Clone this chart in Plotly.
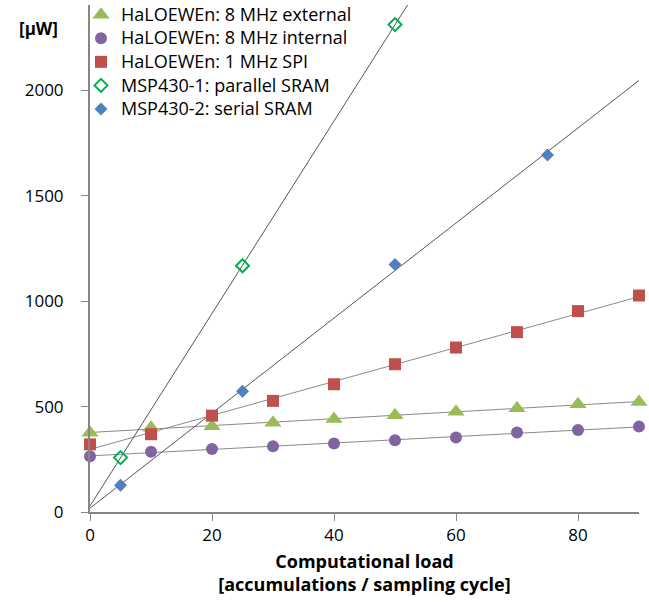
import numpy as np
import plotly.graph_objects as go

# ---- data ----
x_hal = [0, 10, 20, 30, 40, 50, 60, 70, 80, 90]
ext_8mhz = [376, 400, 407, 423, 441, 459, 476, 492, 511, 522]
int_8mhz = [264, 286, 299, 312, 325, 340, 353, 377, 389, 405]
spi_1mhz = [321, 369, 457, 527, 606, 701, 780, 853, 953, 1027]

x_msp1 = [5, 25, 50]
msp1_parallel = [258, 1168, 2312]
x_msp2 = [5, 25, 50, 75]
msp2_serial = [127, 573, 1174, 1693]

names = ["HaLOEWEn: 8 MHz external", "HaLOEWEn: 8 MHz internal",
         "HaLOEWEn: 1 MHz SPI", "MSP430-1: parallel SRAM", "MSP430-2: serial SRAM"]
x_ticks = [0, 20, 40, 60, 80]
y_ticks = [0, 500, 1000, 1500, 2000]

FONT = "Open Sans"
FS = 17
fig = go.Figure()

series = [
    (x_hal, ext_8mhz, names[0], dict(symbol="triangle-up", size=15, color="#9BBB59"), "#8a8a8a"),
    (x_hal, int_8mhz, names[1], dict(symbol="circle", size=12, color="#8064A2"), "#8a8a8a"),
    (x_hal, spi_1mhz, names[2], dict(symbol="square", size=12, color="#C0504D"), "#8a8a8a"),
    (x_msp1, msp1_parallel, names[3], dict(symbol="diamond-open", size=10, color="#00B050",
                                            line=dict(width=2, color="#00B050")), "#555555"),
    (x_msp2, msp2_serial, names[4], dict(symbol="diamond", size=10, color="#4F81BD"), "#555555"),
]

# linear trendlines (computed from the data, extended over 0..90)
tx = np.array([0, 90])
for xs, ys, nm, mk, lc in series:
    k, b = np.polyfit(xs, ys, 1)
    fig.add_trace(go.Scatter(x=tx, y=k * tx + b, mode="lines",
                             line=dict(color=lc, width=1), showlegend=False,
                             hoverinfo="skip"))

for xs, ys, nm, mk, lc in series:
    fig.add_trace(go.Scatter(x=xs, y=ys, mode="markers",
                             name=f'<span style="font-size:18px">{nm}</span>',
                             marker=mk, cliponaxis=False))

axis_col = "#868686"
fig.update_layout(
    width=649, height=602,
    margin=dict(l=90, r=10, t=5, b=90, autoexpand=False),
    paper_bgcolor="white", plot_bgcolor="white",
    font=dict(family=FONT, size=FS, color="#000000"),
    showlegend=True,
    legend=dict(xref="container", yref="paper", x=81 / 649, y=1 + 7 / 507,
                xanchor="left", yanchor="top",
                bgcolor="rgba(0,0,0,0)", font=dict(family=FONT, size=15.8),
                tracegroupgap=0, itemsizing="trace"),
    xaxis=dict(range=[0, 90], tickvals=x_ticks, ticks="outside", ticklen=7,
               tickcolor=axis_col, tickwidth=1, showline=True, linecolor=axis_col,
               linewidth=2, showgrid=False, zeroline=False, automargin=False,
               tickfont=dict(family=FONT, size=FS),
               title=dict(text="<b>Computational load</b><br><b>[accumulations / sampling cycle]</b>",
                          font=dict(family=FONT, size=18), standoff=10)),
    yaxis=dict(range=[0, 2405], tickvals=y_ticks, ticks="outside", ticklen=7,
               tickcolor=axis_col, tickwidth=1, showline=True, linecolor=axis_col,
               linewidth=2, showgrid=False, zeroline=False, automargin=False,
               tickfont=dict(family=FONT, size=FS), ticklabelstandoff=14),
    annotations=[dict(text="<b>[µW]</b>", xref="paper", yref="paper",
                      x=(17 - 90) / 549, y=1 - (28 - 5) / 507, xanchor="left", yanchor="middle",
                      showarrow=False, font=dict(family=FONT, size=FS))],
)

fig.write_html("out.html", config={"displayModeBar": False},
               post_script="document.body.style.margin='0';")
